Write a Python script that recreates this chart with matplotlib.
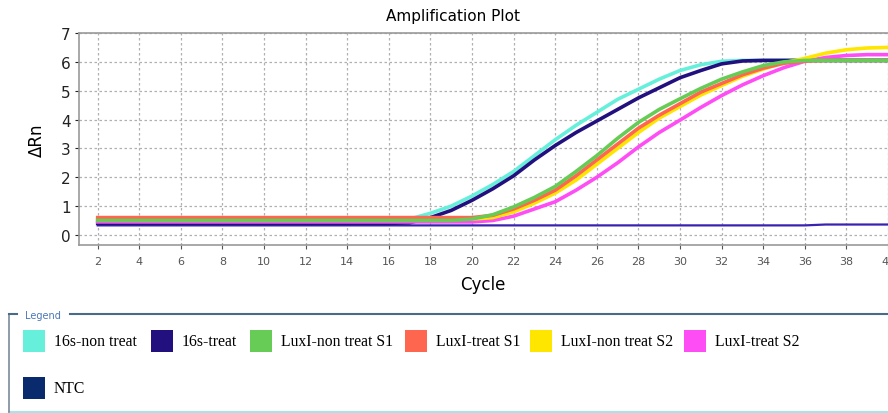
import numpy as np
import matplotlib
matplotlib.use('Agg')
import matplotlib.pyplot as plt
from matplotlib.patches import Rectangle
from matplotlib.lines import Line2D

# ciclos e valores
ciclos = list(range(2, 41))

nao_16s = [0.5]*15 + [0.55, 0.75, 1.0, 1.35, 1.75, 2.2, 2.75, 3.3, 3.8, 4.25, 4.7, 5.05, 5.4,
                      5.7, 5.9, 6.02, 6.05, 6.05, 6.05, 6.05, 6.05, 6.05, 6.05, 6.05]
trat_16s = [0.4]*15 + [0.42, 0.6, 0.85, 1.2, 1.6, 2.05, 2.6, 3.1, 3.55, 3.95, 4.35, 4.75, 5.1,
                       5.45, 5.7, 5.93, 6.03, 6.05, 6.05, 6.05, 6.05, 6.05, 6.05, 6.05]
nao_s1 = [0.5]*18 + [0.55, 0.7, 0.97, 1.3, 1.68, 2.2, 2.75, 3.35, 3.9, 4.35, 4.72, 5.08, 5.4,
                     5.65, 5.87, 6.0, 6.05, 6.05, 6.05, 6.05, 6.05]
trat_s1 = [0.6]*18 + [0.6, 0.68, 0.9, 1.2, 1.55, 2.05, 2.6, 3.15, 3.7, 4.15, 4.55, 4.95, 5.25,
                      5.55, 5.78, 5.95, 6.03, 6.05, 6.05, 6.05, 6.05]
nao_s2 = [0.55]*19 + [0.6, 0.8, 1.1, 1.45, 1.9, 2.45, 3.0, 3.55, 4.05, 4.45, 4.85, 5.18,
                      5.5, 5.75, 5.97, 6.12, 6.3, 6.42, 6.48, 6.5]
trat_s2 = [0.45]*19 + [0.5, 0.65, 0.9, 1.15, 1.55, 2.0, 2.5, 3.05, 3.55, 3.98, 4.42, 4.83,
                       5.2, 5.52, 5.8, 6.02, 6.15, 6.22, 6.25, 6.25]
ntc = [0.33]*35 + [0.36, 0.36, 0.36, 0.36]

nomes = ['16s-non treat', '16s-treat', 'LuxI-non treat S1', 'LuxI-treat S1',
         'LuxI-non treat S2', 'LuxI-treat S2', 'NTC']
cores = ['#66F0DC', '#22107E', '#66CC55', '#FF6650', '#FFE600', '#FF4DF5', '#0A2A6E']
cor_ntc_linha = '#3A22B0'

fig = plt.figure(figsize=(8.88, 4.14), dpi=100)
ax = fig.add_axes([79/888, 1-246/414, 1-79/888, (246-34)/414])

ordem = [(nao_16s, 0), (trat_16s, 1), (trat_s2, 5), (nao_s2, 4), (trat_s1, 3), (nao_s1, 2)]
ax.plot(ciclos, ntc, color=cor_ntc_linha, lw=1.6, zorder=3)
for serie, k in ordem:
    ax.plot(ciclos, serie, color=cores[k], lw=2.6, zorder=3)

ax.set_xlim(1.1, 40)
ax.set_ylim(-0.35, 7)
ax.set_xticks(range(2, 41, 2))
ax.set_yticks(range(0, 8))
ax.grid(True, color='#b0b0b0', linestyle=(0, (2, 2)), lw=0.9)
ax.tick_params(axis='x', labelsize=8, colors='#555555', length=3, pad=5)
ax.tick_params(axis='y', labelsize=11, colors='#222222', length=3, pad=3)
for s in ['left', 'bottom', 'top']:
    ax.spines[s].set_color('#999999')
    ax.spines[s].set_linewidth(1.2)
ax.spines['right'].set_visible(False)

fig.text(453/888, 1-17/414, 'Amplification Plot', ha='center', va='center', fontsize=11)
fig.text(37/888, 1-140/414, 'ΔRn', ha='center', va='center', rotation=90, fontsize=12)
fig.text(483/888, 1-285/414, 'Cycle', ha='center', va='center', fontsize=12)

# caixa da legenda
def linha(x0, y0, x1, y1, cor, lw):
    fig.lines.append(Line2D([x0/888, x1/888], [1-y0/414, 1-y1/414], transform=fig.transFigure,
                            color=cor, lw=lw))

linha(9, 413, 888, 413, '#A8E2EA', 1.5)
linha(9, 315, 9, 413, '#7A8A9A', 1.2)
linha(9, 315, 17, 315, '#4A6A88', 1.5)
linha(70, 315, 888, 315, '#4A6A88', 1.5)
fig.text(25/888, 1-316/414, 'Legend', ha='left', va='center', fontsize=7, color='#4A78B8')

pos_x = [23, 151, 250, 405, 530, 684, 23]
pos_y = [342, 342, 342, 342, 342, 342, 389]
for nome, cor, px, py in zip(nomes, cores, pos_x, pos_y):
    fig.patches.append(Rectangle((px/888, 1-(py+11)/414), 22/888, 22/414,
                                 transform=fig.transFigure, facecolor=cor, edgecolor='none'))
    fig.text((px+31)/888, 1-py/414, nome, ha='left', va='center', fontsize=11.3,
             family='Liberation Serif')

fig.savefig('out.png', dpi=100)
